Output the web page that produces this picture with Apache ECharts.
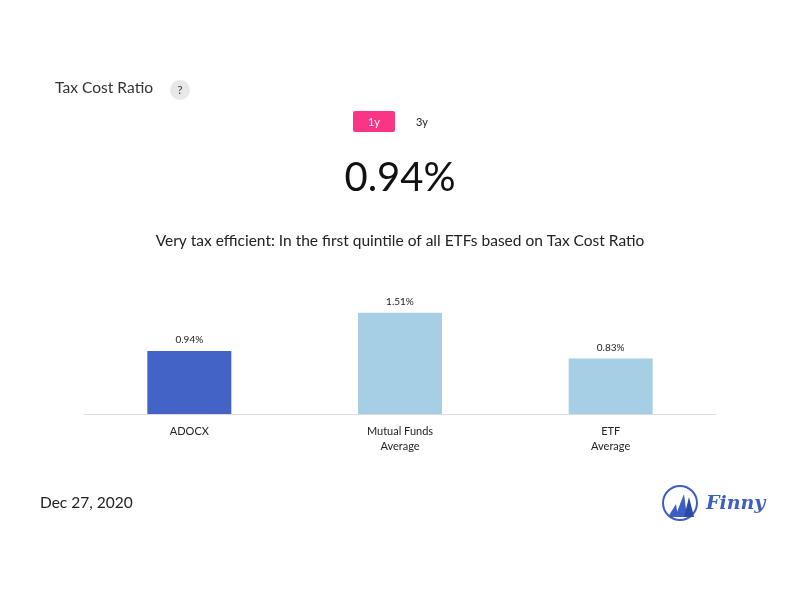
<!DOCTYPE html>
<html><head><meta charset="utf-8">
<script src="https://cdn.jsdelivr.net/npm/echarts@6/dist/echarts.min.js"></script>
<style>html,body{margin:0;padding:0;background:#fff}#c{width:800px;height:600px}</style>
</head><body><div id="c"></div>
<script>
const categories = ['ADOCX', 'Mutual Funds\nAverage', 'ETF\nAverage'];
const values = [0.94, 1.51, 0.83];
const colors = ['#4363c7', '#a6cfe6', '#a6cfe6'];
const headline = '0.94%';
const F = 'Lato, sans-serif';
const chart = echarts.init(document.getElementById('c'));
chart.setOption({
  backgroundColor: '#fff',
  animation: false,
  grid: {left: 84, right: 84, top: 280, bottom: 186},
  xAxis: {type: 'category', data: categories,
    axisLine: {lineStyle: {color: '#ddd'}}, axisTick: {show: false},
    axisLabel: {color: '#222', fontFamily: F, fontSize: 11, margin: 10, lineHeight: 15}},
  yAxis: {type: 'value', min: 0, max: 2, show: false, splitLine: {show: false}},
  series: [{type: 'bar', barWidth: 84,
    data: values.map((v, i) => ({value: v, itemStyle: {color: colors[i]}})),
    label: {show: true, position: 'top', distance: 6, color: '#222', fontFamily: F, fontSize: 10,
      formatter: p => p.value.toFixed(2) + '%'}}],
  graphic: [
    {type: 'text', left: 55, top: 80, style: {text: 'Tax Cost Ratio', font: '15.6px Lato', fill: '#333'}},
    {type: 'circle', shape: {cx: 180, cy: 90, r: 10}, style: {fill: '#e8e8e8'}},
    {type: 'text', x: 180, y: 90, style: {text: '?', font: '12px Lato', fill: '#444', align: 'center', verticalAlign: 'middle'}},
    {type: 'rect', shape: {x: 353, y: 111, width: 42, height: 21, r: 2}, style: {fill: '#fb3585'}},
    {type: 'text', x: 374, y: 122, style: {text: '1y', font: '11px Lato', fill: '#fff', align: 'center', verticalAlign: 'middle'}},
    {type: 'text', x: 422, y: 122, style: {text: '3y', font: '11px Lato', fill: '#222', align: 'center', verticalAlign: 'middle'}},
    {type: 'text', x: 400, y: 178, style: {text: headline, font: '40px Lato', fill: '#111', align: 'center', verticalAlign: 'middle'}},
    {type: 'text', x: 400, y: 241, style: {text: 'Very tax efficient: In the first quintile of all ETFs based on Tax Cost Ratio', font: '15.5px Lato', fill: '#222', align: 'center', verticalAlign: 'middle'}},
    {type: 'text', left: 40, top: 495, style: {text: 'Dec 27, 2020', font: '15.5px Lato', fill: '#222'}},
    {type: 'circle', shape: {cx: 680, cy: 503, r: 17}, style: {fill: 'none', stroke: '#3d5fc4', lineWidth: 2}},
    {type: 'polygon', shape: {points: [[668,517],[676,504],[678,517]]}, style: {fill: '#3d5fc4'}},
    {type: 'polygon', shape: {points: [[675,517],[684,494],[687,517]]}, style: {fill: '#3d5fc4'}},
    {type: 'polygon', shape: {points: [[684,517],[689,497],[694,517]]}, style: {fill: '#2a4aa8'}},
    {type: 'text', x: 706, y: 504, style: {text: 'Finny', font: 'italic bold 19px "DejaVu Serif"', fill: '#3d5fc4', verticalAlign: 'middle'}}
  ]
});
</script></body></html>
